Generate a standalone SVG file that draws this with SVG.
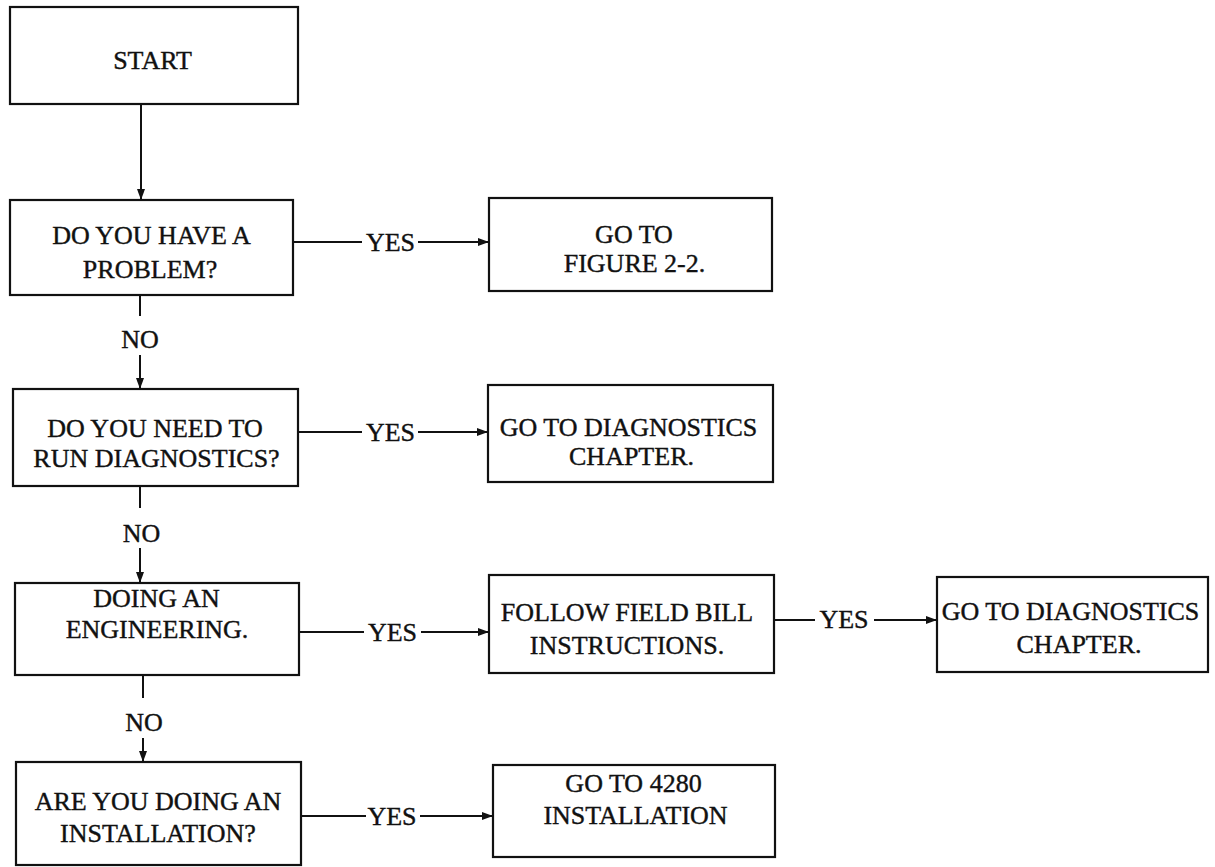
<svg xmlns="http://www.w3.org/2000/svg" width="1215" height="867" viewBox="0 0 1215 867">
<style>
.box{fill:#fff;stroke:#111;stroke-width:2.2}
.t{font-family:"Liberation Serif","Times New Roman",serif;font-size:26px;fill:#111;stroke:#111;stroke-width:0.4;text-anchor:middle}
.c{stroke:#111;stroke-width:2;fill:none}
</style>
<defs>
<marker id="ah" markerUnits="userSpaceOnUse" markerWidth="12" markerHeight="10" refX="11" refY="4" orient="auto">
<path d="M0,0 L11,4 L0,8 Z" fill="#111"/>
</marker>
</defs>
<rect width="1215" height="867" fill="#fff"/>
<g id="connectors">
<line class="c" x1="141" y1="104" x2="141" y2="200" marker-end="url(#ah)"/>
<line class="c" x1="140" y1="296" x2="140" y2="316"/>
<text class="t" x="140" y="348">NO</text>
<line class="c" x1="140" y1="355" x2="140" y2="389" marker-end="url(#ah)"/>
<line class="c" x1="140" y1="487" x2="140" y2="508"/>
<text class="t" x="141.5" y="542">NO</text>
<line class="c" x1="140" y1="548" x2="140" y2="583" marker-end="url(#ah)"/>
<line class="c" x1="143" y1="676" x2="143" y2="698"/>
<text class="t" x="144" y="731">NO</text>
<line class="c" x1="143" y1="738" x2="143" y2="762" marker-end="url(#ah)"/>
<line class="c" x1="294" y1="242" x2="362" y2="242"/>
<text class="t" x="390.5" y="251">YES</text>
<line class="c" x1="418" y1="242" x2="489" y2="242" marker-end="url(#ah)"/>
<line class="c" x1="299" y1="432" x2="362" y2="432"/>
<text class="t" x="390.5" y="441">YES</text>
<line class="c" x1="418" y1="432" x2="488" y2="432" marker-end="url(#ah)"/>
<line class="c" x1="300" y1="632" x2="364" y2="632"/>
<text class="t" x="392.5" y="641">YES</text>
<line class="c" x1="421" y1="632" x2="489" y2="632" marker-end="url(#ah)"/>
<line class="c" x1="775" y1="620" x2="815" y2="620"/>
<text class="t" x="844" y="628">YES</text>
<line class="c" x1="874" y1="620" x2="937" y2="620" marker-end="url(#ah)"/>
<line class="c" x1="302" y1="816" x2="366" y2="816"/>
<text class="t" x="392" y="825">YES</text>
<line class="c" x1="420" y1="816" x2="493" y2="816" marker-end="url(#ah)"/>
</g>
<g id="start">
<rect class="box" x="10" y="7" width="288" height="97"/>
<text class="t" x="152.5" y="69">START</text>
</g>
<g id="problem">
<rect class="box" x="10" y="200" width="283" height="95"/>
<text class="t" x="151.5" y="244">DO YOU HAVE A</text>
<text class="t" x="150" y="278">PROBLEM?</text>
</g>
<g id="diagnostics-q">
<rect class="box" x="13" y="389" width="285" height="97"/>
<text class="t" x="155" y="437">DO YOU NEED TO</text>
<text class="t" x="156.5" y="467">RUN DIAGNOSTICS?</text>
</g>
<g id="engineering-q">
<rect class="box" x="15" y="583" width="284" height="92"/>
<text class="t" x="156.5" y="607">DOING AN</text>
<text class="t" x="157" y="638">ENGINEERING.</text>
</g>
<g id="installation-q">
<rect class="box" x="16" y="762" width="285" height="103"/>
<text class="t" x="158" y="810">ARE YOU DOING AN</text>
<text class="t" x="158" y="842">INSTALLATION?</text>
</g>
<g id="figure">
<rect class="box" x="489" y="198" width="283" height="93"/>
<text class="t" x="634" y="243">GO TO</text>
<text class="t" x="634.5" y="272">FIGURE 2-2.</text>
</g>
<g id="diag-chapter-1">
<rect class="box" x="488" y="385" width="285" height="97"/>
<text class="t" x="628.5" y="436">GO TO DIAGNOSTICS</text>
<text class="t" x="631.5" y="465">CHAPTER.</text>
</g>
<g id="field-bill">
<rect class="box" x="489" y="575" width="285" height="98"/>
<text class="t" x="627" y="621">FOLLOW FIELD BILL</text>
<text class="t" x="627" y="654">INSTRUCTIONS.</text>
</g>
<g id="diag-chapter-2">
<rect class="box" x="937" y="577" width="271" height="95"/>
<text class="t" x="1070.5" y="620">GO TO DIAGNOSTICS</text>
<text class="t" x="1079" y="653">CHAPTER.</text>
</g>
<g id="install-4280">
<rect class="box" x="493" y="765" width="282" height="92"/>
<text class="t" x="633.5" y="792">GO TO 4280</text>
<text class="t" x="635.5" y="824">INSTALLATION</text>
</g>
</svg>
